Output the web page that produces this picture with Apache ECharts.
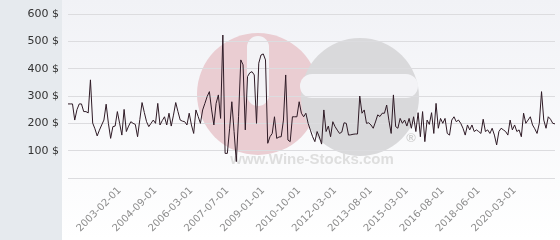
<!DOCTYPE html>
<html>
<head>
<meta charset="utf-8">
<script src="https://cdn.jsdelivr.net/npm/echarts@6/dist/echarts.min.js"></script>
<style>
html,body{margin:0;padding:0;background:#fff;}
#chart{width:560px;height:240px;}
</style>
</head>
<body>
<div id="chart"></div>
<script>
// ---- data ----
const prices = [
271,271,271,212,250,271,271,243,243,238,
359,201,180,154,175,194,212,270,200,145,
188,190,243,200,157,251,170,190,206,200,
196,151,214,276,240,206,188,200,212,200,
273,194,210,224,194,237,190,230,276,243,
212,208,206,194,237,194,163,249,225,200,
249,273,298,316,249,194,273,304,218,523,
90,90,180,279,170,60,224,432,414,176,
371,385,389,377,200,420,450,454,432,127,
151,163,224,145,150,151,212,377,139,133,
224,224,224,279,237,224,237,200,175,151,
133,170,150,124,249,170,190,151,206,188,
175,163,168,202,200,157,158,160,161,161,
300,237,249,200,202,194,182,205,231,225,
237,237,267,210,163,304,188,182,218,200,
212,190,218,182,224,170,239,151,243,133,
212,196,239,163,273,182,218,200,218,163,
157,212,224,206,212,200,182,157,194,176,
194,170,176,170,163,215,170,176,163,182,
157,121,170,182,176,170,157,212,176,194,
170,176,151,237,200,212,224,194,180,163,
200,316,212,182,224,215,200,198
];
const tickLabels = ["2003-02-01","2004-09-01","2006-03-01","2007-07-01","2009-01-01","2010-10-01","2012-03-01","2013-08-01","2015-03-01","2016-08-01","2018-06-01","2020-03-01"];
const firstTickIndex = 23;
const ticksEvery = 16;
const yTicks = [0,100,200,300,400,500,600];
const currency = " $";
const watermarkText = "www.Wine-Stocks.com";

// categories: one per observation, named by the tick label where one falls
const isTick = (i) => {
  const k = (i - firstTickIndex) / ticksEvery;
  return Number.isInteger(k) && k >= 0 && k < tickLabels.length;
};
const categories = prices.map((v, i) => isTick(i) ? tickLabels[(i - firstTickIndex) / ticksEvery] : String(i));

const chart = echarts.init(document.getElementById('chart'), null, {renderer:'canvas'});
chart.setOption({
  animation:false,
  backgroundColor:'transparent',
  graphic:[
    {type:'rect', z:-30, shape:{x:62,y:0,width:498,height:240},
     style:{fill:new echarts.graphic.LinearGradient(0,0,0,1,[{offset:0,color:'#f1f2f6'},{offset:1,color:'#ffffff'}])}},
    {type:'rect', z:-30, shape:{x:0,y:0,width:62,height:240}, style:{fill:'#e6eaee'}},
    // watermark logo
    {type:'circle', z:-20, shape:{cx:258,cy:94,r:61}, style:{fill:'#eacdd2'}},
    {type:'circle', z:-19, shape:{cx:360,cy:97,r:59}, style:{fill:'#d9d9db'}},
    {type:'rect', z:-18, shape:{x:247,y:36,width:22,height:70,r:11}, style:{fill:'#f3f3f6'}},
    {type:'rect', z:-18, shape:{x:300,y:74,width:118,height:24,r:12}, style:{fill:'#f3f3f6'}},
    {type:'text', z:-17, style:{x:312,y:160,text:watermarkText,fill:'#dedede',font:'bold 15px "Liberation Sans", Arial, sans-serif',textAlign:'center',textVerticalAlign:'middle'}},
    {type:'text', z:-17, style:{x:411,y:138,text:'\u00AE',fill:'#cfcfcf',font:'bold 13px "Liberation Sans", Arial, sans-serif',textAlign:'center',textVerticalAlign:'middle'}}
  ],
  grid:{left:68,right:5,top:14,bottom:62,containLabel:false},
  xAxis:{
    type:'category',
    z:5,
    data:categories,
    boundaryGap:false,
    axisLine:{show:false},
    axisTick:{show:false},
    splitLine:{show:false},
    axisLabel:{
      interval:(i)=>isTick(i),
      rotate:45,
      margin:11,
      color:'#8c8c8c',
      fontSize:10,
      fontFamily:'DejaVu Sans',
      formatter:(v,i)=>isTick(i)?v:''
    }
  },
  yAxis:{
    type:'value',
    z:5,
    min:yTicks[0],
    max:yTicks[yTicks.length-1],
    interval:yTicks[1]-yTicks[0],
    axisLine:{show:false},
    axisTick:{show:false},
    splitLine:{lineStyle:{color:'#dcdcdf',width:1}},
    axisLabel:{
      margin:9,
      color:'#333333',
      fontSize:11,
      fontFamily:'DejaVu Sans',
      formatter:(v)=> v===0 ? '' : v + currency
    }
  },
  series:[{
    type:'line',
    data:prices,
    showSymbol:false,
    symbol:'none',
    lineStyle:{color:'#2f1b26',width:1},
    z:6
  }]
});
</script>
</body>
</html>
